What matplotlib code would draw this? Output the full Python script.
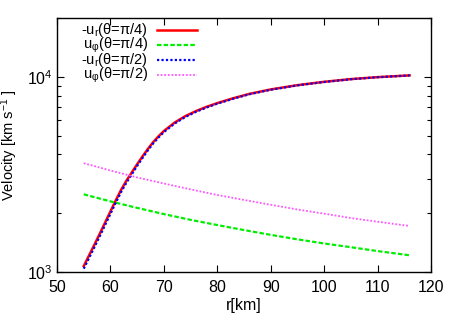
import matplotlib
matplotlib.use("Agg")
import matplotlib.pyplot as plt
from matplotlib.ticker import MultipleLocator, LogLocator, NullFormatter

plt.rcParams['font.family'] = ['Liberation Sans', 'DejaVu Sans']
plt.rcParams['mathtext.fontset'] = 'custom'
plt.rcParams['mathtext.rm'] = 'Liberation Sans'
plt.rcParams['mathtext.it'] = 'Liberation Sans'
plt.rcParams['mathtext.sf'] = 'Liberation Sans'

# Data
r_ur = [55, 56, 57, 58, 59, 60, 61, 62, 63, 64, 65, 66, 67, 68, 69, 70,
        72, 74, 76, 78, 80, 83, 86, 90, 95, 100, 105, 110, 116]
ur_pi4 = [1072, 1216, 1380, 1570, 1791, 2042, 2328, 2636, 2938, 3236, 3565, 3908, 4266, 4624, 4955, 5272,
          5821, 6281, 6668, 7015, 7328, 7762, 8170, 8610, 9057, 9419, 9727, 9954, 10162]
ur_pi2 = [1040, 1180, 1340, 1525, 1740, 1985, 2265, 2570, 2870, 3165, 3495, 3835, 4195, 4555, 4885, 5205,
          5755, 6220, 6610, 6960, 7280, 7720, 8135, 8580, 9035, 9400, 9710, 9945, 10155]

r_up = [55, 60, 65, 70, 75, 80, 85, 90, 95, 100, 105, 110, 116]
uphi_pi4 = [2500, 2300, 2130, 1980, 1850, 1740, 1640, 1550, 1470, 1400, 1340, 1280, 1218]
uphi_pi2 = [3610, 3310, 3050, 2840, 2650, 2480, 2340, 2210, 2090, 1990, 1890, 1810, 1720]

labels = [r'-u$_\mathrm{r}$(θ=π/4)', r'u$_\mathrm{φ}$(θ=π/4)',
          r'-u$_\mathrm{r}$(θ=π/2)', r'u$_\mathrm{φ}$(θ=π/2)']
colors = ['#ff0000', '#00ee00', '#0000ff', '#ff55ff']
styles = [dict(ls='-', lw=1.8), dict(ls=(0, (2, 1)), lw=1.6),
          dict(ls=(0, (1, 1)), lw=1.6), dict(ls=(0, (1, 1)), lw=1.3)]

fig = plt.figure(figsize=(4.58, 3.21), dpi=100)
ax = fig.add_axes([0.1245, 0.1526, 0.8165, 0.7914])

series = [(r_ur, ur_pi4), (r_up, uphi_pi4), (r_ur, ur_pi2), (r_up, uphi_pi2)]
for (x, y), c, st in zip(series, colors, styles):
    ax.plot(x, y, color=c, **st)

FS = 11.5
ax.set_yscale('log')
ax.set_xlim(50, 120)
ax.set_ylim(1000, 20000)
ax.xaxis.set_major_locator(MultipleLocator(10))
ax.yaxis.set_major_locator(LogLocator(base=10))
ax.yaxis.set_minor_locator(LogLocator(base=10, subs=range(2, 10)))
ax.yaxis.set_minor_formatter(NullFormatter())
ax.tick_params(which='both', direction='in', top=True, right=True, labelsize=FS, width=0.8)
ax.tick_params(which='major', length=5)
ax.tick_params(which='minor', length=3)
ax.tick_params(axis='x', pad=6)
ax.tick_params(axis='y', pad=3)
for s in ax.spines.values():
    s.set_linewidth(1.0)

ax.set_xlabel('r[km]', fontsize=FS, labelpad=2)
ax.set_ylabel(r'Velocity [km s$^{-1}$ ]', fontsize=10.5)
ax.yaxis.set_label_coords(-0.098, 0.5)

# gnuplot-style key: right-aligned text, sample on the right
x_text = (148 - 57) / 374
x0, x1 = (157 - 57) / 374, (197 - 57) / 374
rows = [30, 45, 60, 75]
for lab, c, st, yp in zip(labels, colors, styles, rows):
    ya = (272 - yp) / 254
    ax.text(x_text, ya, lab, transform=ax.transAxes, ha='right', va='center', fontsize=10.5)
    ax.plot([x0, x1], [ya, ya], transform=ax.transAxes, color=c, **st)

fig.savefig('out.png', dpi=100)
